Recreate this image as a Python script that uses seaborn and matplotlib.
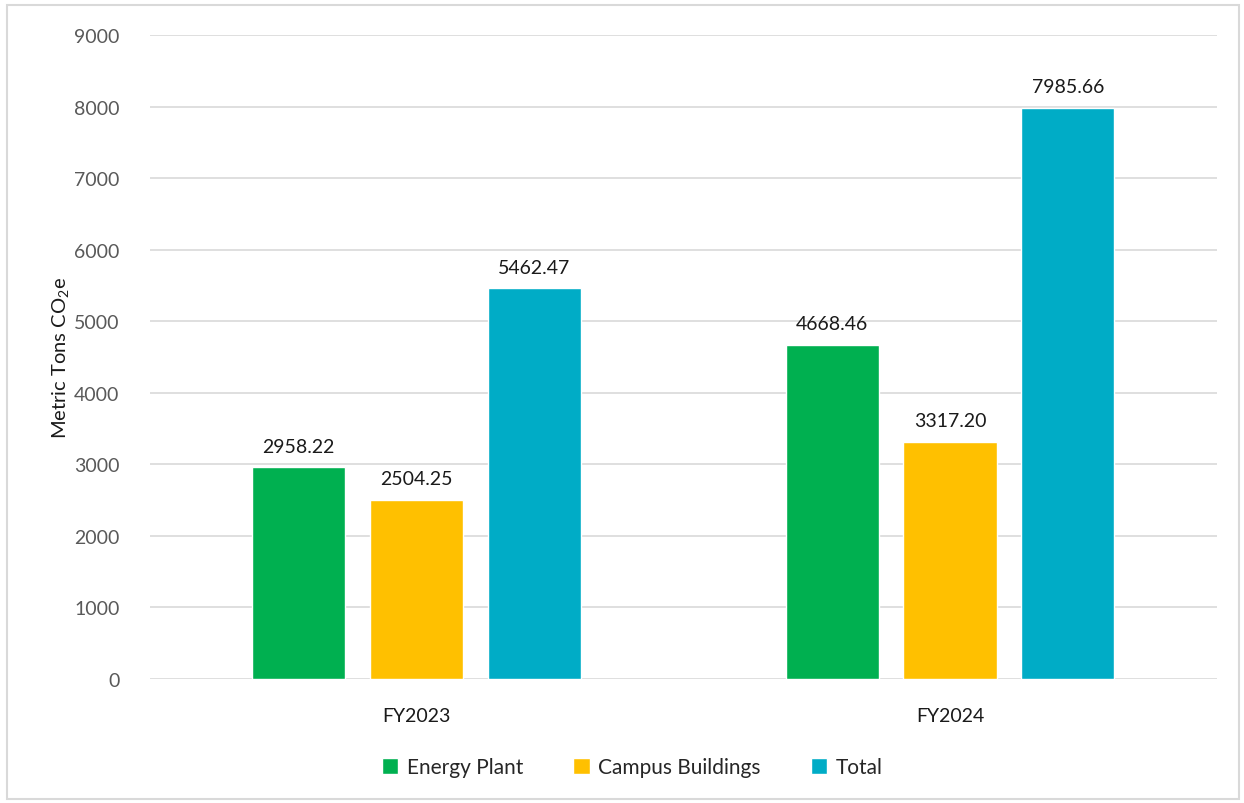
import matplotlib.pyplot as plt
from matplotlib.patches import Rectangle
import pandas as pd
import seaborn as sns

years = ["FY2023", "FY2024"]
series = ["Energy Plant", "Campus Buildings", "Total"]
energy_plant = [2958.22, 4668.46]
campus_buildings = [2504.25, 3317.20]
total = [5462.47, 7985.66]
colors = ["#00B050", "#FFC000", "#00ACC6"]

df = pd.DataFrame({
    "year": years * 3,
    "series": [s for s in series for _ in years],
    "value": energy_plant + campus_buildings + total,
})

sns.set_theme(style="white")
plt.rcParams['font.family'] = ['Lato', 'DejaVu Sans']
plt.rcParams['mathtext.fontset'] = 'custom'
plt.rcParams['mathtext.rm'] = 'Lato'
plt.rcParams['mathtext.it'] = 'Lato'

fig = plt.figure(figsize=(12.44, 8.04), dpi=100)
ax = fig.add_axes([0.1206, 0.1542, 0.8574, 0.801])

sns.barplot(data=df, x="year", y="value", hue="series", palette=colors,
            width=0.663, gap=0.21, ax=ax, legend=True, saturation=1)

for cont in ax.containers:
    ax.bar_label(cont, labels=[f"{v:.2f}" for v in cont.datavalues],
                 padding=9, fontsize=14, color="#1a1a1a")

ax.set_ylim(0, 9000)
ax.set_yticks(range(0, 9001, 1000))
ax.yaxis.grid(True, color="#D9D9D9", linewidth=1.2)
ax.set_axisbelow(True)
for s in ax.spines.values():
    s.set_visible(False)
ax.tick_params(axis='y', labelsize=14, labelcolor="#595959", length=0, pad=22)
ax.tick_params(axis='x', labelsize=14, labelcolor="#1a1a1a", length=0, pad=20)
ax.set_xlabel("")
ax.set_ylabel("Metric Tons CO$_2$e", fontsize=14.5, color="#1a1a1a", labelpad=2)

ax.legend(loc="center", bbox_to_anchor=(0.452, -0.137), ncol=3, frameon=False,
          fontsize=15, handlelength=0.8, handleheight=0.8, handletextpad=0.4,
          columnspacing=2.4)

fig.patches.append(Rectangle((0.006, 0.005), 0.99, 0.987, transform=fig.transFigure,
                             fill=False, edgecolor="#D9D9D9", linewidth=1.5))

fig.savefig("out.png", dpi=100)
